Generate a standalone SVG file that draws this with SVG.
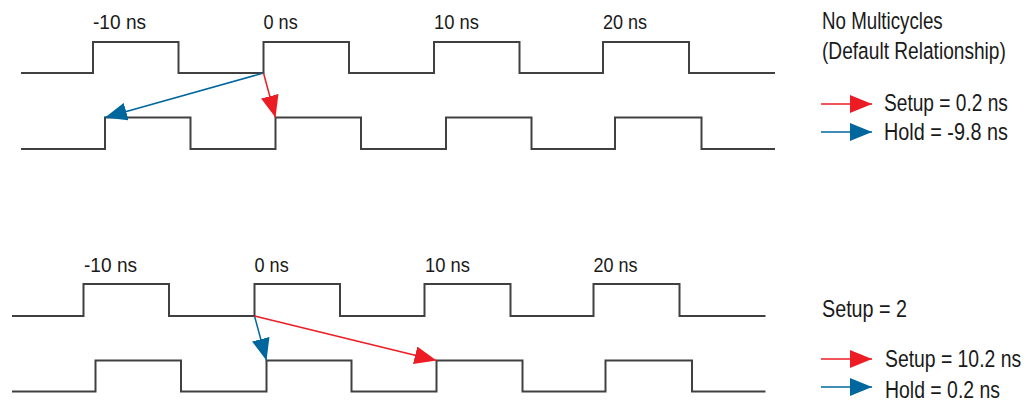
<svg xmlns="http://www.w3.org/2000/svg" width="1032" height="404" viewBox="0 0 1032 404">
<defs>
<style>
.wave{fill:none;stroke:#404040;stroke-width:2;stroke-linejoin:miter}
.lbl{font-family:"Liberation Sans",Arial,sans-serif;font-size:20.5px;fill:#1a1a1a}
.txt{font-family:"Liberation Sans",Arial,sans-serif;font-size:23.5px;fill:#1a1a1a}
.red{stroke:#ED1C24;stroke-width:1.5;fill:none}
.blue{stroke:#00679E;stroke-width:1.5;fill:none}
</style>
<marker id="ahRed" markerUnits="userSpaceOnUse" markerWidth="22" markerHeight="18" refX="22" refY="9" orient="auto">
<path d="M0,0 L22,9 L0,18 z" fill="#ED1C24"/>
</marker>
<marker id="ahBlue" markerUnits="userSpaceOnUse" markerWidth="22" markerHeight="18" refX="22" refY="9" orient="auto">
<path d="M0,0 L22,9 L0,18 z" fill="#00679E"/>
</marker>
</defs>
<rect width="1032" height="404" fill="#ffffff"/>

<g id="top-launch-clock">
<polyline class="wave" points="21,73 93,73 93,42 178.5,42 178.5,73 263.5,73 263.5,42 349,42 349,73 434,73 434,42 519.5,42 519.5,73 603,73 603,42 689,42 689,73 775,73"/>
<text class="lbl" transform="translate(93,29) scale(0.9,1)" textLength="59" lengthAdjust="spacingAndGlyphs">-10 ns</text>
<text class="lbl" transform="translate(263.5,29) scale(0.9,1)" textLength="38" lengthAdjust="spacingAndGlyphs">0 ns</text>
<text class="lbl" transform="translate(434,29) scale(0.9,1)" textLength="50" lengthAdjust="spacingAndGlyphs">10 ns</text>
<text class="lbl" transform="translate(603,29) scale(0.9,1)" textLength="49" lengthAdjust="spacingAndGlyphs">20 ns</text>
</g>
<g id="top-latch-clock">
<polyline class="wave" points="21,149 105,149 105,117.5 190.5,117.5 190.5,149 275.5,149 275.5,117.5 361,117.5 361,149 446,149 446,117.5 531.5,117.5 531.5,149 615,149 615,117.5 701.5,117.5 701.5,149 775,149"/>
</g>
<g id="top-legend">
<text class="txt" transform="translate(822,29) scale(0.81,1)" textLength="149" lengthAdjust="spacingAndGlyphs">No Multicycles</text>
<text class="txt" transform="translate(822,59) scale(0.81,1)" textLength="227" lengthAdjust="spacingAndGlyphs">(Default Relationship)</text>
<text class="txt" transform="translate(884,111) scale(0.81,1)" textLength="153" lengthAdjust="spacingAndGlyphs">Setup = 0.2 ns</text>
<text class="txt" transform="translate(884,140) scale(0.81,1)" textLength="153" lengthAdjust="spacingAndGlyphs">Hold = -9.8 ns</text>
</g>

<g id="bottom-launch-clock">
<polyline class="wave" points="12,316 83.5,316 83.5,284 169,284 169,316 254.5,316 254.5,284 340,284 340,316 424.5,316 424.5,284 510.5,284 510.5,316 593.5,316 593.5,284 679.5,284 679.5,316 765.5,316"/>
<text class="lbl" transform="translate(84,272) scale(0.9,1)" textLength="59" lengthAdjust="spacingAndGlyphs">-10 ns</text>
<text class="lbl" transform="translate(254.5,272) scale(0.9,1)" textLength="38" lengthAdjust="spacingAndGlyphs">0 ns</text>
<text class="lbl" transform="translate(425,272) scale(0.9,1)" textLength="50" lengthAdjust="spacingAndGlyphs">10 ns</text>
<text class="lbl" transform="translate(593.5,272) scale(0.9,1)" textLength="49" lengthAdjust="spacingAndGlyphs">20 ns</text>
</g>
<g id="bottom-latch-clock">
<polyline class="wave" points="12,391.5 95.5,391.5 95.5,360.5 181,360.5 181,391.5 266.5,391.5 266.5,360.5 351.5,360.5 351.5,391.5 436.5,391.5 436.5,360.5 522.5,360.5 522.5,391.5 605.5,391.5 605.5,360.5 692,360.5 692,391.5 765.5,391.5"/>
</g>
<g id="bottom-legend">
<text class="txt" transform="translate(822,317) scale(0.81,1)" textLength="105" lengthAdjust="spacingAndGlyphs">Setup = 2</text>
<text class="txt" transform="translate(885,367) scale(0.81,1)" textLength="168" lengthAdjust="spacingAndGlyphs">Setup = 10.2 ns</text>
<text class="txt" transform="translate(885,398) scale(0.81,1)" textLength="142" lengthAdjust="spacingAndGlyphs">Hold = 0.2 ns</text>
</g>

<g id="connectors">
<line class="blue" x1="263.5" y1="73" x2="105" y2="117.5" marker-end="url(#ahBlue)"/>
<line class="red" x1="263.5" y1="73" x2="275.5" y2="117.5" marker-end="url(#ahRed)"/>
<line class="red" x1="821" y1="104" x2="872" y2="104" marker-end="url(#ahRed)"/>
<line class="blue" x1="821" y1="132" x2="872" y2="132" marker-end="url(#ahBlue)"/>
<line class="blue" x1="254.5" y1="316" x2="266.5" y2="360.5" marker-end="url(#ahBlue)"/>
<line class="red" x1="254.5" y1="316" x2="436.5" y2="360.5" marker-end="url(#ahRed)"/>
<line class="red" x1="821" y1="359" x2="872" y2="359" marker-end="url(#ahRed)"/>
<line class="blue" x1="821" y1="387" x2="872" y2="387" marker-end="url(#ahBlue)"/>
</g>
</svg>
